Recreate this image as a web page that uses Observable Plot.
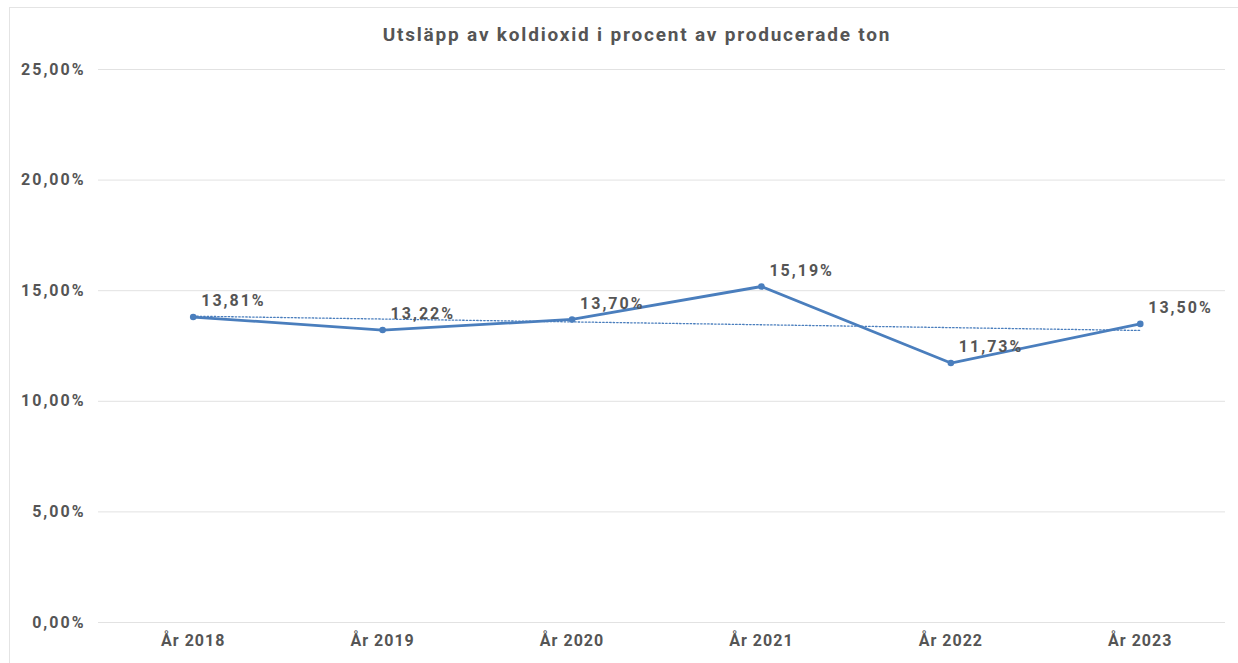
<!DOCTYPE html>
<html>
<head>
<meta charset="utf-8">
<script src="https://cdn.jsdelivr.net/npm/d3@7"></script>
<script src="https://cdn.jsdelivr.net/npm/@observablehq/plot@0.6"></script>
<style>
  html, body { margin: 0; padding: 0; background: #fff; }
  #wrap { position: relative; width: 1238px; height: 663px; overflow: hidden; font-family: Roboto, sans-serif; }
  #card { position: absolute; left: 9px; top: 7px; right: -2px; bottom: -2px; border-left: 1px solid #e4e4e4; border-top: 1px solid #e4e4e4; }
  #title { position: absolute; top: 23px; left: 0; width: 1274px; text-align: center; font-size: 19px; font-weight: bold; color: #555; letter-spacing: 1.8px; }
  #chart { position: absolute; left: 0; top: 50px; }
  #chart svg g[aria-label="y-axis tick label"] text { letter-spacing: 2px; }
  #chart svg g[aria-label="x-axis tick label"] text { letter-spacing: 1px; }
  #chart svg g[aria-label="text"] text { letter-spacing: 2px; }
</style>
</head>
<body>
<div id="wrap">
  <div id="card"></div>
  <div id="title">Utsläpp av koldioxid i procent av producerade ton</div>
  <div id="chart"></div>
</div>
<script>
const years = ["År 2018", "År 2019", "År 2020", "År 2021", "År 2022", "År 2023"];
const values = [13.81, 13.22, 13.70, 15.19, 11.73, 13.50];
const yTicks = [0, 5, 10, 15, 20, 25];

const fmt = v => v.toFixed(2).replace(".", ",") + "%";
const data = years.map((y, i) => ({i, year: y, v: values[i]}));
const blue = "#4a7ebd";

const chart = Plot.plot({
  width: 1238,
  height: 613,
  marginLeft: 98,
  marginRight: 13,
  marginTop: 19,
  marginBottom: 41,
  style: {fontFamily: "Roboto, sans-serif", fontSize: "16px", fontWeight: "bold", color: "#555", background: "transparent"},
  x: {domain: [-0.5, 5.45], ticks: d3.range(years.length), tickFormat: i => years[i], tickSize: 0, tickPadding: 12, label: null},
  y: {domain: [0, 25], ticks: yTicks, tickFormat: fmt, tickSize: 0, tickPadding: 13, label: null},
  marks: [
    Plot.gridY(yTicks, {stroke: "#e2e2e2", strokeOpacity: 1, strokeWidth: 1}),
    Plot.linearRegressionY(data, {x: "i", y: "v", ci: 0, stroke: blue, strokeWidth: 1.3, strokeDasharray: "1.5,2"}),
    Plot.line(data, {x: "i", y: "v", stroke: blue, strokeWidth: 2.8}),
    Plot.dot(data, {x: "i", y: "v", r: 3.3, fill: blue}),
    Plot.text(data, {x: "i", y: "v", text: d => fmt(d.v), textAnchor: "start", dx: 8, dy: -16, fill: "#555", fontSize: 16, fontWeight: "bold"})
  ]
});
document.getElementById("chart").appendChild(chart);
</script>
</body>
</html>
